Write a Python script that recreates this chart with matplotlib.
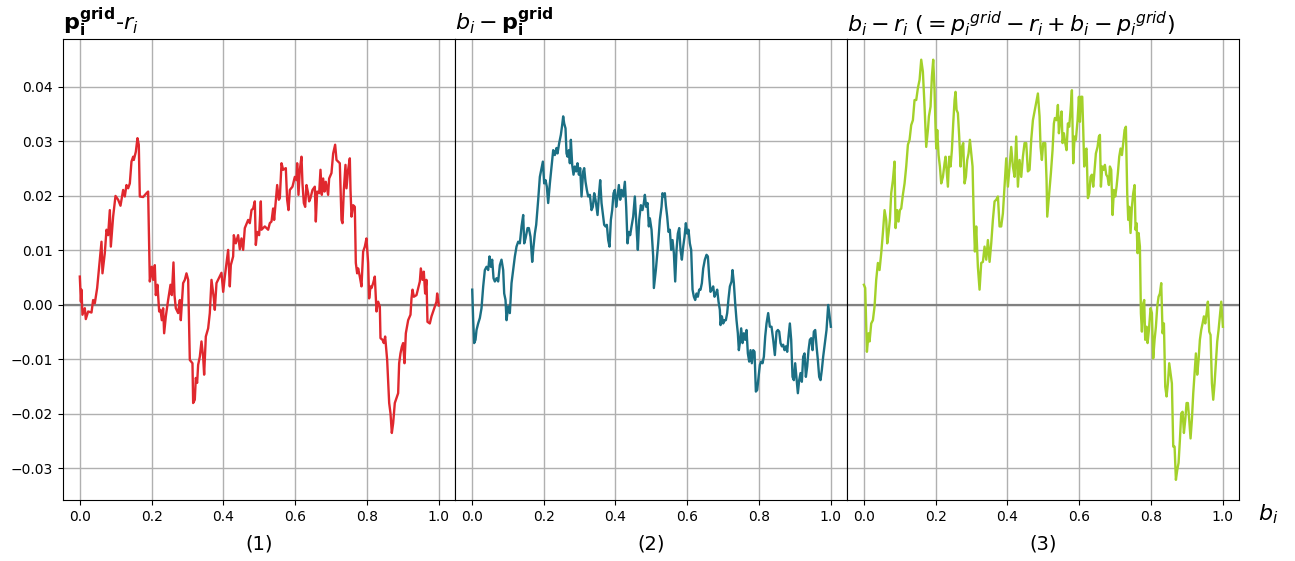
import numpy as np
import matplotlib.pyplot as plt

# panel (1): p_i^grid - r_i
b_1 = [0.000, 0.003, 0.0046, 0.0074, 0.0139, 0.0167, 0.0232, 0.0325, 0.0371, 0.0418,
       0.0483, 0.0539, 0.0604, 0.0631, 0.0696, 0.0743, 0.0789, 0.0836, 0.0864, 0.0928,
       0.0994, 0.1068, 0.1133, 0.1207, 0.1253, 0.1300, 0.1346, 0.1393, 0.1439, 0.1486,
       0.1504, 0.1560, 0.1606, 0.1643, 0.1671, 0.1764, 0.1857, 0.1903, 0.1950, 0.2006,
       0.2043, 0.2089, 0.2117, 0.2163, 0.2210, 0.2247, 0.2284, 0.2321, 0.2349, 0.2396,
       0.2460, 0.2526, 0.2563, 0.2609, 0.2637, 0.2674, 0.2739, 0.2786, 0.2813, 0.2878,
       0.2925, 0.2971, 0.3018, 0.3064, 0.3138, 0.3157, 0.3203, 0.3231, 0.3268, 0.3296,
       0.3343, 0.3389, 0.3435, 0.3463, 0.3510, 0.3575, 0.3621, 0.3668, 0.3733, 0.3760,
       0.3807, 0.3946, 0.3993, 0.4039, 0.4132, 0.4178, 0.4206, 0.4271, 0.4290, 0.4345,
       0.4410, 0.4457, 0.4503, 0.4550, 0.4596, 0.4689, 0.4735, 0.4782, 0.4828, 0.4875,
       0.4903, 0.4940, 0.4995, 0.5042, 0.5060, 0.5153, 0.5246, 0.5292, 0.5339, 0.5385,
       0.5413, 0.5460, 0.5497, 0.5543, 0.5571, 0.5618, 0.5664, 0.5738, 0.5775, 0.5813,
       0.5850, 0.5924, 0.5989, 0.6035, 0.6054, 0.6091, 0.6128, 0.6175, 0.6202, 0.6240,
       0.6277, 0.6314, 0.6360, 0.6388, 0.6425, 0.6481, 0.6546, 0.6574, 0.6611, 0.6667,
       0.6704, 0.6741, 0.6778, 0.6815, 0.6852, 0.6917, 0.6945, 0.7010, 0.7057, 0.7112,
       0.7150, 0.7196, 0.7242, 0.7289, 0.7317, 0.7354, 0.7400, 0.7428, 0.7474, 0.7521,
       0.7540, 0.7568, 0.7614, 0.7660, 0.7688, 0.7725, 0.7753, 0.7799, 0.7846, 0.7892,
       0.7939, 0.7985, 0.8031, 0.8059, 0.8097, 0.8125, 0.8171, 0.8217, 0.8264, 0.8310,
       0.8357, 0.8375, 0.8431, 0.8468, 0.8505, 0.8561, 0.8617, 0.8654, 0.8691, 0.8728,
       0.8774, 0.8867, 0.8895, 0.8932, 0.8969, 0.9006, 0.9044, 0.9081, 0.9146, 0.9211,
       0.9239, 0.9267, 0.9304, 0.9378, 0.9425, 0.9471, 0.9499, 0.9545, 0.9582, 0.9619,
       0.9656, 0.9684, 0.9749, 0.9796, 0.9842, 0.9889, 0.9935, 0.9954, 1.0000]
d_1 = [0.0052, 0.0006, 0.0028, -0.0018, -0.0006, -0.0026, -0.0012, -0.0014, 0.0009, 0.0003,
       0.0031, 0.0070, 0.0116, 0.0058, 0.0095, 0.0138, 0.0128, 0.0174, 0.0107, 0.0162,
       0.0200, 0.0193, 0.0182, 0.0211, 0.0199, 0.0220, 0.0214, 0.0223, 0.0263, 0.0272,
       0.0266, 0.0281, 0.0306, 0.0294, 0.0199, 0.0198, 0.0205, 0.0208, 0.0043, 0.0070,
       0.0046, 0.0073, 0.0018, 0.0037, -0.0012, -0.0009, -0.0028, -0.0006, -0.0052, -0.0021,
       0.0009, 0.0037, 0.0018, 0.0078, 0.0018, -0.0006, -0.0015, 0.0009, -0.0028, 0.0040,
       0.0046, 0.0058, 0.0046, -0.0101, -0.0107, -0.0180, -0.0174, -0.0134, -0.0143, -0.0110,
       -0.0095, -0.0067, -0.0095, -0.0128, -0.0058, -0.0043, -0.0015, 0.0046, 0.0012, -0.0009,
       0.0040, 0.0059, 0.0024, 0.0052, 0.0101, 0.0034, 0.0073, 0.0089, 0.0128, 0.0113,
       0.0128, 0.0102, 0.0122, 0.0101, 0.0141, 0.0156, 0.0150, 0.0174, 0.0177, 0.0190,
       0.0110, 0.0134, 0.0128, 0.0190, 0.0138, 0.0144, 0.0138, 0.0150, 0.0153, 0.0177,
       0.0156, 0.0193, 0.0220, 0.0193, 0.0196, 0.0260, 0.0248, 0.0251, 0.0193, 0.0174,
       0.0211, 0.0217, 0.0235, 0.0229, 0.0260, 0.0202, 0.0248, 0.0272, 0.0223, 0.0187,
       0.0180, 0.0220, 0.0205, 0.0190, 0.0196, 0.0211, 0.0217, 0.0153, 0.0208, 0.0205,
       0.0248, 0.0202, 0.0232, 0.0208, 0.0226, 0.0202, 0.0232, 0.0242, 0.0278, 0.0294,
       0.0266, 0.0263, 0.0260, 0.0156, 0.0150, 0.0211, 0.0257, 0.0214, 0.0248, 0.0269,
       0.0211, 0.0162, 0.0183, 0.0180, 0.0077, 0.0058, 0.0067, 0.0052, 0.0034, 0.0098,
       0.0107, 0.0122, 0.0077, 0.0012, 0.0034, 0.0031, 0.0040, 0.0052, -0.0012, 0.0006,
       -0.0003, -0.0061, -0.0064, -0.0070, -0.0058, -0.0101, -0.0180, -0.0199, -0.0235, -0.0217,
       -0.0180, -0.0162, -0.0107, -0.0089, -0.0077, -0.0070, -0.0107, -0.0052, -0.0028, -0.0018,
       0.0012, 0.0028, 0.0015, 0.0018, 0.0031, 0.0043, 0.0067, 0.0046, 0.0061, 0.0021,
       0.0046, -0.0031, -0.0034, -0.0021, -0.0012, -0.0003, 0.0006, 0.0021, -0.0001]

# panel (2): b_i - p_i^grid
b_2 = [0.0010, 0.0037, 0.0065, 0.0102, 0.0130, 0.0176, 0.0223, 0.0269, 0.0316, 0.0362,
       0.0409, 0.0455, 0.0492, 0.0529, 0.0566, 0.0604, 0.0641, 0.0687, 0.0733, 0.0780,
       0.0826, 0.0873, 0.0901, 0.0938, 0.0966, 0.1012, 0.1058, 0.1105, 0.1151, 0.1198,
       0.1244, 0.1291, 0.1337, 0.1384, 0.1430, 0.1458, 0.1495, 0.1551, 0.1588, 0.1634,
       0.1681, 0.1718, 0.1755, 0.1792, 0.1848, 0.1894, 0.1941, 0.1978, 0.2015, 0.2052,
       0.2089, 0.2126, 0.2173, 0.2219, 0.2266, 0.2312, 0.2358, 0.2386, 0.2433, 0.2479,
       0.2516, 0.2544, 0.2572, 0.2609, 0.2637, 0.2665, 0.2702, 0.2730, 0.2758, 0.2795,
       0.2832, 0.2869, 0.2906, 0.2943, 0.2981, 0.3018, 0.3055, 0.3101, 0.3129, 0.3166,
       0.3203, 0.3241, 0.3287, 0.3334, 0.3370, 0.3408, 0.3445, 0.3501, 0.3547, 0.3575,
       0.3612, 0.3658, 0.3686, 0.3723, 0.3760, 0.3798, 0.3835, 0.3872, 0.3909, 0.3946,
       0.3983, 0.4020, 0.4058, 0.4095, 0.4132, 0.4169, 0.4215, 0.4262, 0.4299, 0.4336,
       0.4373, 0.4410, 0.4448, 0.4494, 0.4540, 0.4596, 0.4624, 0.4661, 0.4708, 0.4754,
       0.4791, 0.4819, 0.4856, 0.4893, 0.4930, 0.4958, 0.5005, 0.5051, 0.5070, 0.5125,
       0.5190, 0.5237, 0.5283, 0.5311, 0.5348, 0.5376, 0.5404, 0.5441, 0.5478, 0.5515,
       0.5552, 0.5590, 0.5627, 0.5664, 0.5701, 0.5738, 0.5776, 0.5813, 0.5850, 0.5887,
       0.5924, 0.5961, 0.5998, 0.6035, 0.6072, 0.6109, 0.6147, 0.6184, 0.6221, 0.6258,
       0.6295, 0.6332, 0.6370, 0.6407, 0.6444, 0.6490, 0.6537, 0.6574, 0.6611, 0.6648,
       0.6685, 0.6722, 0.6760, 0.6797, 0.6834, 0.6871, 0.6908, 0.6927, 0.6964, 0.7001,
       0.7038, 0.7075, 0.7112, 0.7150, 0.7187, 0.7233, 0.7261, 0.7298, 0.7335, 0.7372,
       0.7409, 0.7437, 0.7465, 0.7502, 0.7540, 0.7577, 0.7614, 0.7651, 0.7688, 0.7725,
       0.7762, 0.7799, 0.7836, 0.7874, 0.7911, 0.7948, 0.7985, 0.8022, 0.8059, 0.8097,
       0.8134, 0.8171, 0.8208, 0.8254, 0.8301, 0.8347, 0.8394, 0.8440, 0.8487, 0.8524,
       0.8561, 0.8598, 0.8635, 0.8672, 0.8709, 0.8747, 0.8784, 0.8821, 0.8858, 0.8895,
       0.8932, 0.8969, 0.9006, 0.9044, 0.9081, 0.9118, 0.9155, 0.9192, 0.9229, 0.9267,
       0.9304, 0.9341, 0.9378, 0.9415, 0.9452, 0.9490, 0.9526, 0.9564, 0.9601, 0.9638,
       0.9675, 0.9712, 0.9749, 0.9786, 0.9833, 0.9879, 0.9926, 1.0000]
d_2 = [0.0028, -0.0028, -0.0070, -0.0064, -0.0046, -0.0034, -0.0024, -0.0006, 0.0034, 0.0064,
       0.0070, 0.0064, 0.0089, 0.0070, 0.0083, 0.0049, 0.0043, 0.0049, 0.0043, 0.0073,
       0.0083, 0.0064, 0.0021, 0.0009, -0.0028, -0.0003, -0.0015, 0.0040, 0.0064, 0.0089,
       0.0107, 0.0116, 0.0113, 0.0144, 0.0165, 0.0113, 0.0122, 0.0141, 0.0141, 0.0125,
       0.0079, 0.0107, 0.0131, 0.0147, 0.0193, 0.0235, 0.0251, 0.0263, 0.0223, 0.0229,
       0.0217, 0.0187, 0.0223, 0.0254, 0.0284, 0.0275, 0.0288, 0.0278, 0.0297, 0.0312,
       0.0330, 0.0346, 0.0333, 0.0324, 0.0278, 0.0272, 0.0284, 0.0260, 0.0303, 0.0257,
       0.0239, 0.0254, 0.0245, 0.0260, 0.0239, 0.0251, 0.0199, 0.0245, 0.0251, 0.0226,
       0.0211, 0.0199, 0.0202, 0.0174, 0.0180, 0.0205, 0.0193, 0.0165, 0.0208, 0.0229,
       0.0187, 0.0162, 0.0147, 0.0144, 0.0147, 0.0119, 0.0107, 0.0156, 0.0174, 0.0205,
       0.0211, 0.0180, 0.0199, 0.0220, 0.0193, 0.0211, 0.0199, 0.0226, 0.0180, 0.0113,
       0.0134, 0.0128, 0.0144, 0.0162, 0.0199, 0.0131, 0.0101, 0.0156, 0.0183, 0.0174,
       0.0187, 0.0202, 0.0180, 0.0187, 0.0144, 0.0159, 0.0138, 0.0089, 0.0031, 0.0064,
       0.0113, 0.0156, 0.0180, 0.0205, 0.0199, 0.0205, 0.0183, 0.0162, 0.0134, 0.0138,
       0.0101, 0.0119, 0.0095, 0.0043, 0.0101, 0.0131, 0.0141, 0.0101, 0.0083, 0.0107,
       0.0125, 0.0150, 0.0131, 0.0138, 0.0113, 0.0101, 0.0028, 0.0015, 0.0009, 0.0021,
       0.0015, 0.0028, 0.0028, 0.0040, 0.0067, 0.0083, 0.0092, 0.0089, 0.0052, 0.0024,
       0.0028, 0.0034, 0.0015, 0.0021, 0.0028, 0.0006, -0.0009, -0.0037, -0.0021, -0.0034,
       -0.0028, -0.0028, -0.0015, 0.0012, 0.0034, 0.0043, 0.0064, 0.0040, 0.0003, -0.0028,
       -0.0052, -0.0083, -0.0070, -0.0043, -0.0070, -0.0052, -0.0064, -0.0046, -0.0089, -0.0104,
       -0.0083, -0.0107, -0.0083, -0.0086, -0.0159, -0.0156, -0.0132, -0.0110, -0.0104, -0.0107,
       -0.0095, -0.0058, -0.0034, -0.0015, -0.0040, -0.0040, -0.0064, -0.0092, -0.0049, -0.0046,
       -0.0049, -0.0070, -0.0076, -0.0073, -0.0083, -0.0076, -0.0086, -0.0058, -0.0034, -0.0064,
       -0.0132, -0.0138, -0.0107, -0.0135, -0.0162, -0.0138, -0.0125, -0.0141, -0.0095, -0.0089,
       -0.0132, -0.0113, -0.0083, -0.0064, -0.0061, -0.0083, -0.0049, -0.0046, -0.0076, -0.0101,
       -0.0132, -0.0138, -0.0119, -0.0095, -0.0070, -0.0046, 0.0000, -0.0040]

# panel (3): b_i - r_i
b_3 = [0.0000, 0.0037, 0.0065, 0.0084, 0.0130, 0.0158, 0.0204, 0.0251, 0.0297, 0.0343,
       0.0390, 0.0436, 0.0483, 0.0529, 0.0576, 0.0622, 0.0650, 0.0687, 0.0724, 0.0761,
       0.0808, 0.0854, 0.0882, 0.0928, 0.0966, 0.1003, 0.1040, 0.1086, 0.1133, 0.1179,
       0.1226, 0.1272, 0.1318, 0.1365, 0.1411, 0.1458, 0.1504, 0.1551, 0.1597, 0.1643,
       0.1690, 0.1736, 0.1783, 0.1811, 0.1857, 0.1894, 0.1931, 0.1968, 0.1996, 0.2015,
       0.2043, 0.2080, 0.2117, 0.2154, 0.2201, 0.2247, 0.2275, 0.2303, 0.2340, 0.2377,
       0.2414, 0.2451, 0.2488, 0.2526, 0.2553, 0.2581, 0.2618, 0.2655, 0.2693, 0.2730,
       0.2767, 0.2804, 0.2841, 0.2878, 0.2915, 0.2953, 0.2990, 0.3027, 0.3064, 0.3092,
       0.3129, 0.3175, 0.3222, 0.3268, 0.3315, 0.3361, 0.3408, 0.3454, 0.3501, 0.3547,
       0.3593, 0.3640, 0.3686, 0.3733, 0.3779, 0.3825, 0.3872, 0.3918, 0.3965, 0.4011,
       0.4058, 0.4104, 0.4150, 0.4197, 0.4243, 0.4290, 0.4336, 0.4383, 0.4429, 0.4475,
       0.4522, 0.4568, 0.4615, 0.4661, 0.4708, 0.4754, 0.4800, 0.4847, 0.4893, 0.4921,
       0.4958, 0.4995, 0.5051, 0.5088, 0.5107, 0.5162, 0.5209, 0.5255, 0.5292, 0.5320,
       0.5367, 0.5404, 0.5432, 0.5460, 0.5506, 0.5534, 0.5571, 0.5608, 0.5645, 0.5682,
       0.5720, 0.5757, 0.5794, 0.5831, 0.5868, 0.5905, 0.5952, 0.5989, 0.6017, 0.6045,
       0.6082, 0.6110, 0.6137, 0.6175, 0.6202, 0.6240, 0.6277, 0.6314, 0.6351, 0.6388,
       0.6425, 0.6462, 0.6509, 0.6546, 0.6574, 0.6602, 0.6639, 0.6676, 0.6713, 0.6750,
       0.6787, 0.6825, 0.6852, 0.6889, 0.6927, 0.6964, 0.7001, 0.7038, 0.7075, 0.7112,
       0.7150, 0.7187, 0.7224, 0.7261, 0.7298, 0.7335, 0.7363, 0.7391, 0.7428, 0.7465,
       0.7502, 0.7540, 0.7567, 0.7595, 0.7623, 0.7651, 0.7688, 0.7716, 0.7744, 0.7781,
       0.7808, 0.7836, 0.7874, 0.7902, 0.7939, 0.7985, 0.8022, 0.8059, 0.8097, 0.8134,
       0.8171, 0.8208, 0.8245, 0.8282, 0.8320, 0.8357, 0.8394, 0.8431, 0.8468, 0.8505,
       0.8542, 0.8579, 0.8617, 0.8654, 0.8691, 0.8728, 0.8765, 0.8802, 0.8839, 0.8877,
       0.8914, 0.8951, 0.8988, 0.9025, 0.9062, 0.9099, 0.9136, 0.9174, 0.9211, 0.9248,
       0.9285, 0.9322, 0.9359, 0.9396, 0.9434, 0.9471, 0.9508, 0.9545, 0.9582, 0.9619,
       0.9656, 0.9694, 0.9731, 0.9768, 0.9805, 0.9842, 0.9879, 0.9916, 0.9954, 1.0000]
d_3 = [0.0037, 0.0031, -0.0040, -0.0086, -0.0052, -0.0067, -0.0034, -0.0028, -0.0003, 0.0046,
       0.0077, 0.0064, 0.0095, 0.0132, 0.0174, 0.0156, 0.0113, 0.0132, 0.0156, 0.0205,
       0.0229, 0.0263, 0.0141, 0.0174, 0.0153, 0.0174, 0.0177, 0.0202, 0.0223, 0.0254,
       0.0294, 0.0303, 0.0330, 0.0339, 0.0376, 0.0376, 0.0398, 0.0413, 0.0450, 0.0428,
       0.0364, 0.0290, 0.0321, 0.0346, 0.0364, 0.0419, 0.0450, 0.0394, 0.0324, 0.0287,
       0.0321, 0.0275, 0.0254, 0.0223, 0.0235, 0.0260, 0.0272, 0.0248, 0.0217, 0.0272,
       0.0254, 0.0284, 0.0333, 0.0376, 0.0391, 0.0358, 0.0352, 0.0309, 0.0254, 0.0290,
       0.0297, 0.0223, 0.0235, 0.0266, 0.0278, 0.0303, 0.0278, 0.0254, 0.0150, 0.0098,
       0.0144, 0.0070, 0.0028, 0.0077, 0.0079, 0.0107, 0.0083, 0.0119, 0.0079, 0.0113,
       0.0156, 0.0190, 0.0193, 0.0199, 0.0144, 0.0144, 0.0168, 0.0217, 0.0269, 0.0217,
       0.0254, 0.0290, 0.0254, 0.0235, 0.0309, 0.0217, 0.0266, 0.0235, 0.0272, 0.0297,
       0.0297, 0.0245, 0.0248, 0.0303, 0.0339, 0.0355, 0.0370, 0.0388, 0.0346, 0.0290,
       0.0266, 0.0297, 0.0297, 0.0229, 0.0162, 0.0205, 0.0242, 0.0284, 0.0333, 0.0343,
       0.0339, 0.0367, 0.0315, 0.0333, 0.0355, 0.0297, 0.0315, 0.0297, 0.0284, 0.0333,
       0.0327, 0.0358, 0.0394, 0.0260, 0.0309, 0.0303, 0.0339, 0.0382, 0.0336, 0.0382,
       0.0382, 0.0321, 0.0254, 0.0284, 0.0287, 0.0196, 0.0205, 0.0235, 0.0239, 0.0217,
       0.0248, 0.0278, 0.0290, 0.0309, 0.0312, 0.0217, 0.0254, 0.0248, 0.0257, 0.0239,
       0.0235, 0.0220, 0.0254, 0.0248, 0.0165, 0.0211, 0.0199, 0.0217, 0.0242, 0.0272,
       0.0287, 0.0275, 0.0297, 0.0321, 0.0327, 0.0205, 0.0156, 0.0180, 0.0132, 0.0180,
       0.0205, 0.0220, 0.0138, 0.0150, 0.0095, 0.0132, 0.0107, -0.0015, -0.0049, 0.0003,
       0.0009, -0.0064, -0.0040, -0.0070, -0.0046, -0.0006, -0.0015, -0.0098, -0.0064, -0.0040,
       -0.0003, 0.0015, 0.0021, 0.0040, -0.0052, -0.0034, -0.0150, -0.0168, -0.0144, -0.0107,
       -0.0125, -0.0144, -0.0260, -0.0260, -0.0321, -0.0303, -0.0290, -0.0248, -0.0199, -0.0196,
       -0.0235, -0.0211, -0.0180, -0.0180, -0.0211, -0.0245, -0.0211, -0.0162, -0.0125, -0.0089,
       -0.0128, -0.0101, -0.0064, -0.0046, -0.0034, -0.0021, -0.0034, -0.0015, 0.0006, -0.0049,
       -0.0055, -0.0144, -0.0174, -0.0144, -0.0107, -0.0067, -0.0046, -0.0021, 0.0006, -0.0040]

panel_x = [b_1, b_2, b_3]
panel_y = [d_1, d_2, d_3]
titles = [r'$\mathbf{p_i^{grid}}$-$r_i$',
          r'$b_i - \mathbf{p_i^{grid}}$',
          r'$b_i - r_i\ (= p_i{}^{grid} - r_i + b_i - p_i{}^{grid})$']
labels = ['(1)', '(2)', '(3)']
colors = ['#e0282e', '#1b6f84', '#a3d12a']

fig, axes = plt.subplots(1, 3, figsize=(12.95, 5.61), dpi=100, sharey=True)
fig.subplots_adjust(left=0.0486, right=0.9568, top=0.9305, bottom=0.1087, wspace=0)

for ax, x, y, t, lab, c in zip(axes, panel_x, panel_y, titles, labels, colors):
    ax.plot(np.array(x), np.array(y), color=c, lw=1.7, zorder=3)
    ax.axhline(0, color='grey', lw=1.6, zorder=2)
    ax.grid(True, color='#b0b0b0', lw=1.0)
    ax.set_axisbelow(True)
    ax.set_title(t, loc='left', fontsize=16, pad=3)
    ax.set_xlabel(lab, fontsize=14, labelpad=8)
    ax.set_xticks([0.0, 0.2, 0.4, 0.6, 0.8, 1.0])
    ax.set_xlim(-0.047, 1.045)
    ax.tick_params(labelsize=10)

axes[0].set_ylim(-0.0358, 0.0488)
axes[0].set_yticks([-0.03, -0.02, -0.01, 0.0, 0.01, 0.02, 0.03, 0.04])
for ax in axes[1:]:
    ax.tick_params(axis='y', left=False)

fig.text(0.9795, 0.0835, r'$b_i$', fontsize=16, ha='center', va='center')

fig.savefig('out.png')
